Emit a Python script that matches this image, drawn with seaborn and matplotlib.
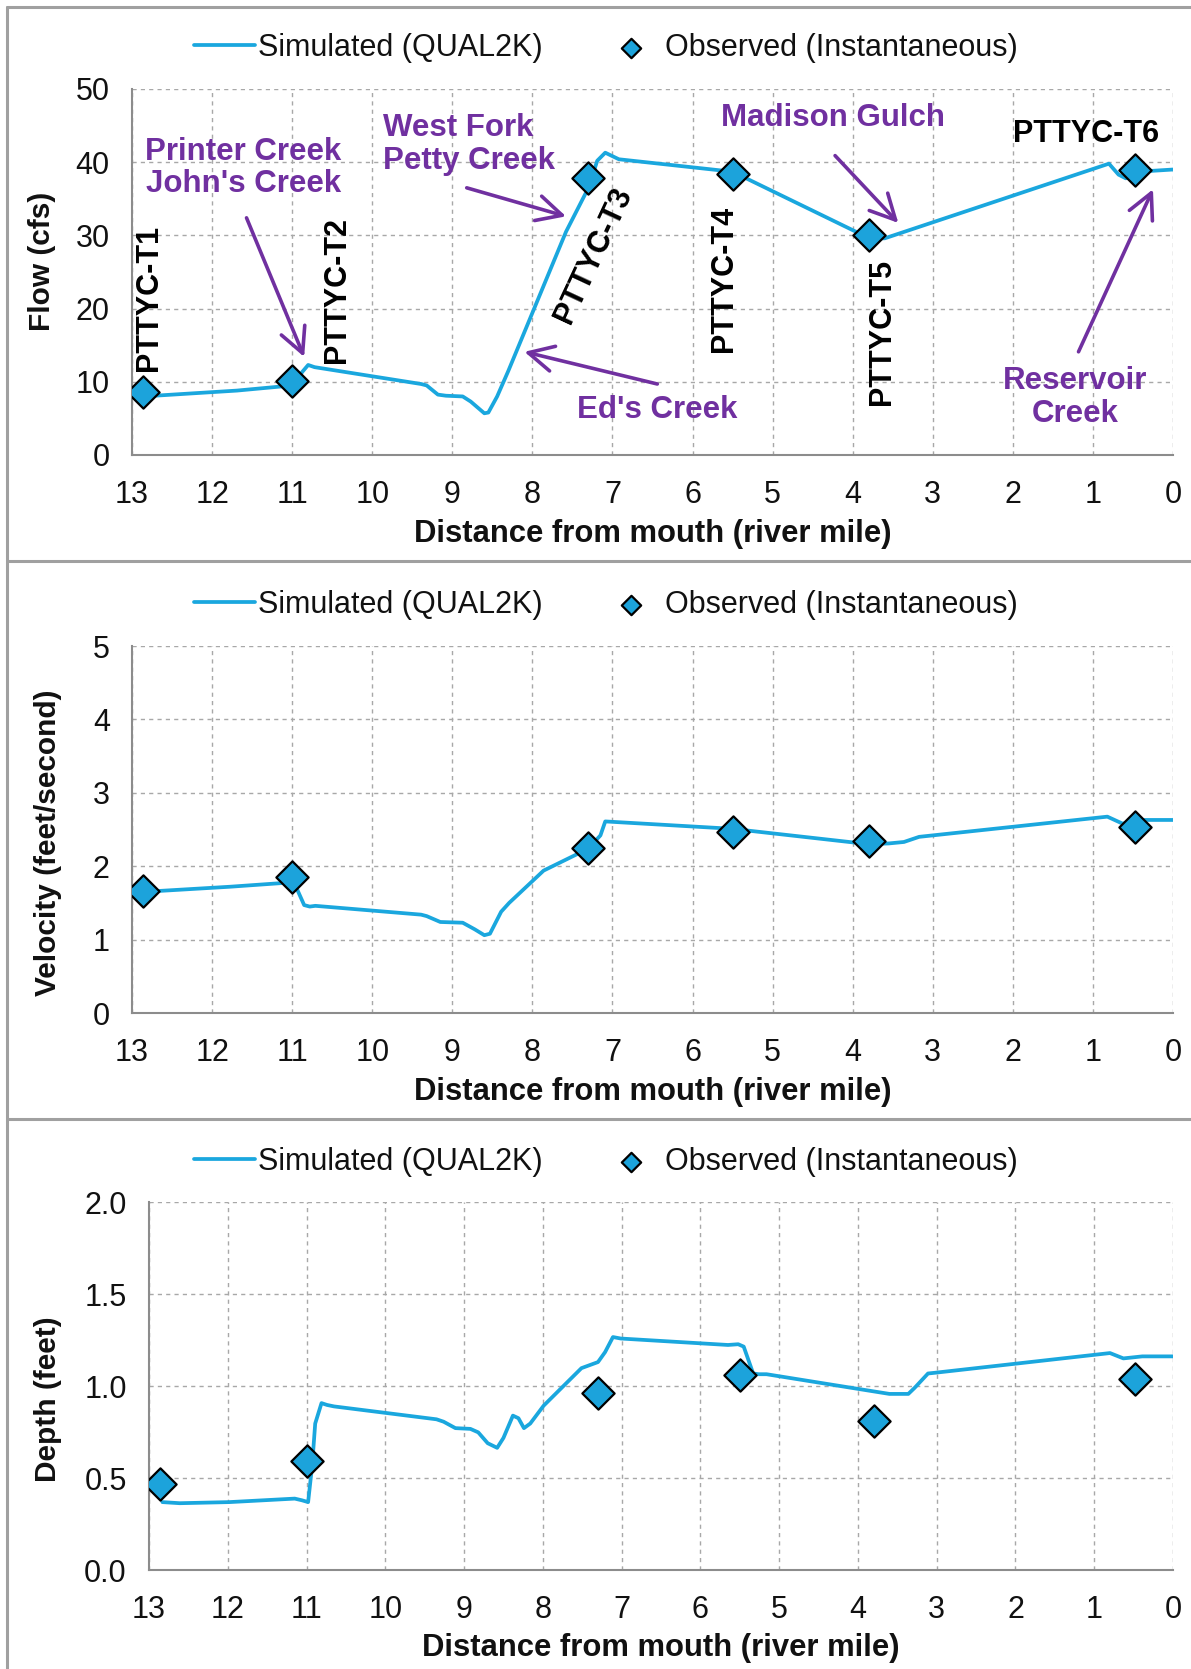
import matplotlib
matplotlib.use("Agg")
import matplotlib.pyplot as plt
from matplotlib.ticker import MultipleLocator, FormatStrFormatter
from matplotlib.lines import Line2D
import seaborn as sns

# ---------------- data ----------------
obs_x = [12.86, 11.0, 7.3, 5.5, 3.8, 0.48]
obs_flow = [8.6, 10.1, 37.8, 38.4, 30.0, 39.0]
obs_vel = [1.66, 1.85, 2.25, 2.46, 2.35, 2.53]
obs_depth = [0.47, 0.59, 0.96, 1.06, 0.81, 1.04]

flow_x = [12.86, 11.69, 11.0, 10.87, 10.80, 10.72, 9.39, 9.32, 9.18, 9.08, 8.87, 8.77,
          8.60, 8.55, 8.44, 8.30, 7.58, 7.30, 7.19, 7.09, 6.92, 5.50, 3.79, 3.60,
          0.80, 0.68, 0.59, 0.29, 0.0]
flow_y = [8.0, 8.8, 9.5, 11.4, 12.3, 12.0, 9.7, 9.5, 8.25, 8.1, 8.0, 7.3,
          5.7, 5.8, 8.0, 11.5, 30.5, 36.5, 40.2, 41.3, 40.4, 38.7, 29.6, 29.6,
          39.8, 38.3, 37.8, 38.8, 39.0]

vel_x = [12.86, 11.78, 11.0, 10.94, 10.85, 10.78, 10.71, 9.39, 9.32, 9.15, 8.87, 8.72,
         8.60, 8.53, 8.39, 8.29, 7.86, 7.30, 7.15, 7.09, 5.51, 3.80, 3.55, 3.36, 3.17,
         0.82, 0.63, 0.39, 0.0]
vel_y = [1.65, 1.72, 1.78, 1.69, 1.47, 1.45, 1.46, 1.34, 1.32, 1.24, 1.23, 1.14,
         1.06, 1.08, 1.38, 1.50, 1.94, 2.24, 2.42, 2.61, 2.51, 2.30, 2.31, 2.33, 2.40,
         2.675, 2.58, 2.63, 2.63]

dep_x = [12.83, 12.61, 11.98, 11.15, 11.06, 10.98, 10.93, 10.89, 10.81, 10.74, 10.65,
         9.35, 9.26, 9.11, 8.92, 8.82, 8.70, 8.58, 8.50, 8.38, 8.31, 8.24, 8.16, 7.99,
         7.51, 7.30, 7.21, 7.11, 7.01, 5.65, 5.52, 5.45, 5.33, 5.26, 5.16, 3.60, 3.36,
         3.28, 3.11, 3.02, 0.80, 0.63, 0.39, 0.0]
dep_y = [0.369, 0.363, 0.369, 0.388, 0.379, 0.369, 0.563, 0.796, 0.907, 0.897, 0.889,
         0.819, 0.806, 0.771, 0.767, 0.748, 0.689, 0.664, 0.718, 0.839, 0.825, 0.771, 0.796, 0.893,
         1.097, 1.13, 1.184, 1.266, 1.258, 1.223, 1.227, 1.214, 1.068, 1.064, 1.064, 0.957, 0.957,
         0.99, 1.068, 1.072, 1.179, 1.150, 1.161, 1.161]

station_labels = ["PTTYC-T1", "PTTYC-T2", "PTTYC-T3", "PTTYC-T4", "PTTYC-T5", "PTTYC-T6"]
station_pos = [(12.79, 21.4), (10.44, 22.5), (7.24, 27.3), (5.61, 24.1), (3.64, 16.8), (1.09, 43.9)]
station_rot = [90, 90, 65, 90, 90, 0]

trib_labels = ["Printer Creek\nJohn's Creek", "West Fork\nPetty Creek", "Ed's Creek",
               "Madison Gulch", "Reservoir\nCreek"]
trib_text_pos = [(11.61, 39.2), (9.87, 42.4), (6.44, 6.1), (4.25, 46.0), (1.22, 7.85)]
trib_ha = ["center", "left", "center", "center", "center"]
trib_arrow_tail = [(11.57, 32.4), (8.82, 36.5), (6.44, 9.7), (4.22, 40.9), (1.18, 14.1)]
trib_arrow_head = [(10.85, 13.4), (7.58, 32.6), (8.10, 14.1), (3.43, 31.7), (0.25, 36.3)]

xlabel = "Distance from mouth (river mile)"
sim_label = "Simulated (QUAL2K)"
obs_label = "Observed (Instantaneous)"

# ---------------- style ----------------
sns.set_style("white")
plt.rcParams['font.family'] = ['Liberation Sans', 'DejaVu Sans']

LINE_C = "#1AA7DE"
MARK_C = "#1CA3DB"
PURPLE = "#7030A0"
GRID_C = "#A8A8A8"
AX_C = "#8C8C8C"
TXT_C = "#111111"

W, H = 1191, 1669
fig = plt.figure(figsize=(W / 100, H / 100), dpi=100)
fig.patch.set_facecolor("white")


def add_ax(left, top, right, bottom):
    return fig.add_axes([left / W, 1 - bottom / H, (right - left) / W, (bottom - top) / H])


panels = [
    dict(box=(132, 89, 1173, 455), sx=flow_x, sy=flow_y, oy=obs_flow, ylim=(0, 50),
         major=10, minor=2, fmt="%d", ylabel="Flow (cfs)", ylab_pos=(-0.0865, 0.530),
         leg=(0.455, 1.112), xlab_y=-0.216),
    dict(box=(132, 646, 1173, 1013), sx=vel_x, sy=vel_y, oy=obs_vel, ylim=(0, 5),
         major=1, minor=0.25, fmt="%d", ylabel="Velocity (feet/second)", ylab_pos=(-0.0807, 0.463),
         leg=(0.455, 1.112), xlab_y=-0.215),
    dict(box=(149, 1202, 1173, 1570), sx=dep_x, sy=dep_y, oy=obs_depth, ylim=(0, 2.0),
         major=0.5, minor=0.1, fmt="%.1f", ylabel="Depth (feet)", ylab_pos=(-0.099, 0.464),
         leg=(0.446, 1.109), xlab_y=-0.212),
]

axes = []
for p in panels:
    ax = add_ax(*p["box"])
    axes.append(ax)
    sns.lineplot(x=p["sx"], y=p["sy"], ax=ax, color=LINE_C, lw=2.7, estimator=None,
                 sort=False, label=sim_label, zorder=2)
    sns.scatterplot(x=obs_x, y=p["oy"], ax=ax, marker="D", s=270, color=MARK_C,
                    edgecolor="black", linewidth=1.6, zorder=4, label=obs_label)
    ax.set_xlim(13, 0)
    ax.set_ylim(*p["ylim"])
    ax.xaxis.set_major_locator(MultipleLocator(1))
    ax.xaxis.set_minor_locator(MultipleLocator(0.25))
    ax.yaxis.set_major_locator(MultipleLocator(p["major"]))
    ax.yaxis.set_minor_locator(MultipleLocator(p["minor"]))
    ax.yaxis.set_major_formatter(FormatStrFormatter(p["fmt"]))
    ax.grid(True, which="major", ls=(0, (3, 3)), color=GRID_C, lw=1.0, zorder=0)
    ax.set_axisbelow(True)
    for s in ["top", "right"]:
        ax.spines[s].set_visible(False)
    for s in ["left", "bottom"]:
        ax.spines[s].set_color(AX_C)
        ax.spines[s].set_linewidth(1.5)
    ax.tick_params(which="both", direction="in", color=AX_C, width=1.1,
                   labelsize=22, labelcolor=TXT_C)
    ax.tick_params(which="major", length=7)
    ax.tick_params(which="minor", length=6)
    ax.tick_params(axis="x", which="both", pad=18)
    ax.tick_params(axis="y", which="both", pad=16)
    ax.set_xlabel(xlabel, fontsize=22.3, fontweight="bold", color=TXT_C, va="center")
    ax.xaxis.set_label_coords(0.5, p["xlab_y"])
    ax.set_ylabel(p["ylabel"], fontsize=21.5, fontweight="bold", color=TXT_C, va="center")
    ax.yaxis.set_label_coords(*p["ylab_pos"])
    ax.legend(loc="center", bbox_to_anchor=p["leg"], ncol=2, frameon=False, fontsize=22,
              handlelength=2.0, handletextpad=0.1, columnspacing=1.9, markerscale=0.6,
              labelcolor=TXT_C)

# annotations on flow panel
ax0 = axes[0]
for lab, (x, y), rot in zip(station_labels, station_pos, station_rot):
    ax0.text(x, y, lab, rotation=rot, ha="center", va="center", fontsize=22,
             fontweight="bold", color="black", rotation_mode="anchor", zorder=5)
for lab, (x, y), ha in zip(trib_labels, trib_text_pos, trib_ha):
    ax0.text(x, y, lab, ha=ha, va="center", multialignment=ha, fontsize=22.5,
             fontweight="bold", color=PURPLE, linespacing=1.12, zorder=5)
for (tx, ty), (hx, hy) in zip(trib_arrow_tail, trib_arrow_head):
    ax0.annotate("", xy=(hx, hy), xytext=(tx, ty),
                 arrowprops=dict(arrowstyle="->,head_length=0.75,head_width=0.38",
                                 color=PURPLE, lw=2.6, mutation_scale=24,
                                 shrinkA=0, shrinkB=0), zorder=5)

# panel frames
FR_C = "#A0A0A0"
def fline(x0, y0, x1, y1):
    fig.add_artist(Line2D([x0 / W, x1 / W], [1 - y0 / H, 1 - y1 / H], color=FR_C, lw=2.2))

fline(7, 7, W, 7)
fline(7, 7, 7, H)
fline(7, 561, W, 561)
fline(7, 1119, W, 1119)

fig.savefig("out.png", dpi=100, facecolor="white")
